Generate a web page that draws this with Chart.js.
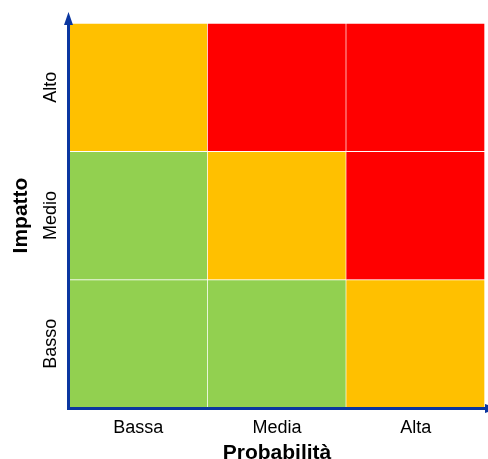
<!DOCTYPE html>
<html>
<head>
<meta charset="utf-8">
<script src="https://cdn.jsdelivr.net/npm/chart.js@4.4.1/dist/chart.umd.min.js"></script>
<style>
html,body{margin:0;padding:0;background:#fff;}
#wrap{width:488px;height:459px;position:relative;}
</style>
</head>
<body>
<div id="wrap"><canvas id="c"></canvas></div>
<script>
// Categories
const probabilityLabels = ['Bassa', 'Media', 'Alta'];   // x axis
const impactLabels = ['Basso', 'Medio', 'Alto'];        // y axis (bottom -> top)
const xTitle = 'Probabilità';
const yTitle = 'Impatto';

// Risk level of each cell, one array per impact row (columns follow probabilityLabels)
const rowBasso = ['low', 'low', 'medium'];
const rowMedio = ['low', 'medium', 'high'];
const rowAlto  = ['medium', 'high', 'high'];

// Each cell occupies one unit of the impact axis
const cellSize = [1, 1, 1];

const levelColors = { low: '#92D050', medium: '#FFC000', high: '#FF0000' };
const axisColor = '#0A36A0';
const FONT = "'Liberation Sans', Arial, sans-serif";

const rows = [rowBasso, rowMedio, rowAlto];
const datasets = rows.map((row, i) => ({
  label: impactLabels[i],
  data: cellSize.slice(),
  backgroundColor: row.map(l => levelColors[l]),
  borderColor: 'rgba(255,255,255,0.9)',
  borderWidth: { top: 1, right: 1, bottom: 0, left: 0 },
  borderSkipped: false,
  categoryPercentage: 1.0,
  barPercentage: 1.0
}));

const arrowAxes = {
  id: 'arrowAxes',
  afterDraw(chart) {
    const { ctx, chartArea: a } = chart;
    ctx.save();
    ctx.strokeStyle = axisColor;
    ctx.fillStyle = axisColor;
    ctx.lineWidth = 3;
    const yx = a.left - 0.5;
    const xy = a.bottom + 0.5;
    // y axis line
    ctx.beginPath();
    ctx.moveTo(yx, xy + 1.5);
    ctx.lineTo(yx, a.top + 2);
    ctx.stroke();
    // y arrowhead
    ctx.beginPath();
    ctx.moveTo(yx, a.top - 11);
    ctx.lineTo(yx - 4.5, a.top + 2);
    ctx.lineTo(yx + 4.5, a.top + 2);
    ctx.closePath();
    ctx.fill();
    // x axis line
    ctx.beginPath();
    ctx.moveTo(yx - 1.5, xy);
    ctx.lineTo(a.right + 1, xy);
    ctx.stroke();
    // x arrowhead
    ctx.beginPath();
    ctx.moveTo(a.right + 13, xy);
    ctx.lineTo(a.right, xy - 4.5);
    ctx.lineTo(a.right, xy + 4.5);
    ctx.closePath();
    ctx.fill();
    ctx.restore();
  }
};

new Chart(document.getElementById('c'), {
  type: 'bar',
  data: { labels: probabilityLabels, datasets },
  plugins: [arrowAxes],
  options: {
    responsive: true,
    maintainAspectRatio: false,
    animation: false,
    layout: { padding: { top: 23, right: 3, left: 0, bottom: 0 } },
    plugins: { legend: { display: false }, tooltip: { enabled: false } },
    scales: {
      x: {
        stacked: true,
        grid: { display: false, drawTicks: false },
        border: { display: false },
        ticks: { color: '#000', font: { family: FONT, size: 18 }, padding: 9 },
        title: {
          display: true, text: xTitle, color: '#000',
          font: { family: FONT, size: 21, weight: 'bold', lineHeight: 1.2 },
          padding: { top: 0, bottom: -7 }
        },
        afterFit(s) { s.height = 51; }
      },
      y: {
        stacked: true,
        min: 0, max: 3,
        grid: { display: false, drawTicks: false },
        border: { display: false },
        afterBuildTicks(s) { s.ticks = [0.5, 1.5, 2.5].map(v => ({ value: v })); },
        ticks: {
          color: '#000', font: { family: FONT, size: 18 },
          minRotation: 90, maxRotation: 90, crossAlign: 'center', padding: -7,
          callback: (v) => impactLabels[Math.floor(v)]
        },
        title: {
          display: true, text: yTitle, color: '#000',
          font: { family: FONT, size: 21, weight: 'bold', lineHeight: 1.2 },
          padding: { top: 9, bottom: 0 }
        },
        afterFit(s) { s.width = 69; }
      }
    }
  }
});
</script>
</body>
</html>
